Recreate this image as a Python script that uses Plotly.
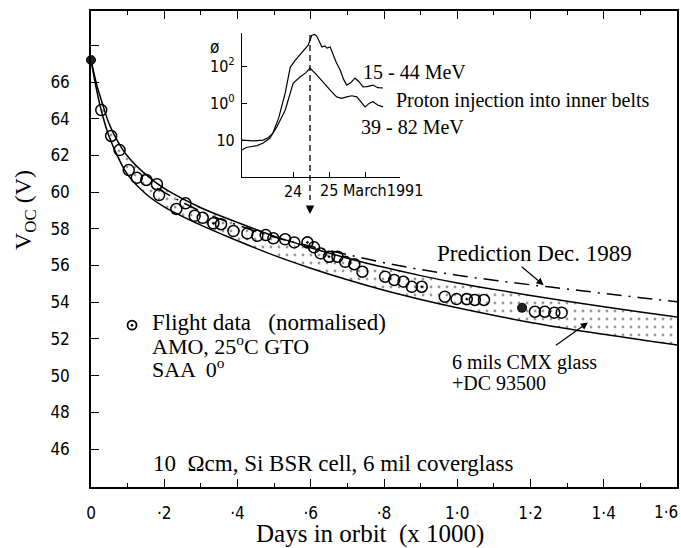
import plotly.graph_objects as go

# ---------------- data ----------------
# flight data (days x1000, Voc V)
open_x = [0.028, 0.055, 0.078, 0.103, 0.125, 0.151, 0.18, 0.186, 0.233, 0.258, 0.283, 0.305,
          0.355, 0.389, 0.427, 0.454, 0.477, 0.498, 0.53, 0.555, 0.609, 0.627, 0.673, 0.694,
          0.719, 0.741, 0.803, 0.828, 0.853, 0.876, 0.966, 0.998, 1.048, 1.073,
          1.212, 1.239, 1.265, 1.285]
open_y = [64.47, 63.06, 62.29, 61.2, 60.78, 60.66, 60.43, 59.84, 59.08, 59.39, 58.71, 58.6,
          58.25, 57.88, 57.75, 57.62, 57.66, 57.48, 57.43, 57.26, 56.99, 56.66, 56.48, 56.2,
          56.07, 55.66, 55.39, 55.21, 55.12, 54.84, 54.3, 54.17, 54.12, 54.12,
          53.48, 53.48, 53.43, 53.43]
dot_x = [0.334, 0.591, 0.65, 0.903, 1.026]
dot_y = [58.3, 57.26, 56.48, 54.84, 54.17]
filled_x = [0.0, 1.177]
filled_y = [67.2, 53.7]

# band boundaries (6 mils CMX glass + DC 93500)
lower_x = [0, 0.015, 0.03, 0.05, 0.075, 0.1, 0.15, 0.2, 0.3, 0.4, 0.5, 0.6, 0.7, 0.8, 0.9, 1.0, 1.2, 1.4, 1.6]
lower_y = [67.2, 65.6, 64.3, 63.0, 61.85, 60.95, 59.9, 59.2, 58.2, 57.35, 56.55, 55.85, 55.22, 54.65,
           54.15, 53.7, 52.9, 52.25, 51.67]
upper_x = [0, 0.015, 0.03, 0.05, 0.075, 0.1, 0.15, 0.2, 0.3, 0.4, 0.5, 0.6, 0.7, 0.8, 0.9, 1.0,
           1.1, 1.2, 1.3, 1.4, 1.5, 1.6]
upper_y = [67.2, 65.9, 64.9, 63.7, 62.7, 61.95, 60.95, 60.2, 59.15, 58.35, 57.6, 56.97, 56.4, 55.9,
           55.45, 55.05, 54.7, 54.37, 54.05, 53.75, 53.47, 53.2]
# prediction Dec. 1989
pred_x = [0.18, 0.3, 0.4, 0.5, 0.6, 0.7, 0.8, 0.9, 1.0, 1.1, 1.2, 1.3, 1.4, 1.5, 1.6]
pred_y = [60.2, 58.95, 58.2, 57.55, 57.05, 56.6, 56.15, 55.78, 55.47, 55.2, 54.95, 54.72, 54.48,
          54.25, 54.03]

# inset: proton flux, March 1991 (day, log-ish units)
p1_x = [22.58, 22.9, 23.17, 23.3, 23.44, 23.6, 23.78, 23.92, 24.05, 24.19, 24.3, 24.42, 24.52,
        24.6, 24.66, 24.75, 24.8, 24.88, 24.94, 25.03, 25.11, 25.2, 25.31, 25.4, 25.49, 25.6,
        25.72, 25.83, 25.94, 26.05, 26.22, 26.35, 26.5]
p1_y = [1.0, 0.98, 1.0, 1.06, 1.19, 1.6, 2.27, 2.97, 3.15, 3.3, 3.42, 3.57, 3.84, 3.86, 3.81,
        3.65, 3.52, 3.55, 3.49, 3.52, 3.3, 3.1, 2.89, 2.65, 2.49, 2.55, 2.68, 2.58, 2.44, 2.45,
        2.49, 2.42, 2.41]
p2_x = [22.58, 22.7, 22.81, 23.0, 23.17, 23.35, 23.55, 23.78, 24.0, 24.19, 24.35, 24.47, 24.66,
        24.8, 24.94, 25.08, 25.21, 25.35, 25.49, 25.63, 25.77, 25.9, 26.0, 26.12, 26.22, 26.35, 26.5]
p2_y = [0.73, 0.8, 0.82, 0.85, 0.92, 1.05, 1.36, 1.81, 2.54, 2.71, 2.82, 2.95, 2.76, 2.6, 2.44,
        2.3, 2.17, 2.13, 2.17, 2.2, 2.17, 2.02, 1.9, 2.0, 2.04, 1.95, 1.9]

x_tickvals = [0, 0.2, 0.4, 0.6, 0.8, 1.0, 1.2, 1.4]
x_ticktext = ["0", "·2", "·4", "·6", "·8", "1·0", "1·2", "1·4"]
x_last_label = "1·6"
y_tickvals = [46, 48, 50, 52, 54, 56, 58, 60, 62, 64, 66, 68]
y_ticktext = ["46", "48", "50", "52", "54", "56", "58", "60", "62", "64", "66", ""]
in_y_tickvals = [1, 2, 3, 3.9]
in_y_ticktext = ["10", "10<sup>0</sup>", "10<sup>2</sup>", ""]
in_x_tickvals = [24, 25, 26]
in_x_ticktext = ["24", "", ""]

# ---------------- layout helpers ----------------
W, H = 681, 548
ML, MR, MT, MB = 91, 4, 11, 61
PW, PH = W - ML - MR, H - MT - MB


def px(xp):
    return (xp - ML) / PW


def py(yp):
    return 1 - (yp - MT) / PH


SERIF = "Liberation Serif, Times New Roman, serif"
TICKF = "DejaVu Sans Condensed, Liberation Sans Narrow, sans-serif"

fig = go.Figure()

# band
fig.add_trace(go.Scatter(x=lower_x, y=lower_y, mode="lines", line=dict(color="black", width=1.5, shape="spline"),
                         showlegend=False, hoverinfo="skip"))
fig.add_trace(go.Scatter(x=upper_x, y=upper_y, mode="lines", line=dict(color="black", width=1.5, shape="spline"),
                         fill="tonexty", fillcolor="rgba(0,0,0,0)",
                         fillpattern=dict(shape=".", fgcolor="#333", bgcolor="rgba(0,0,0,0)", size=8, solidity=0.1),
                         showlegend=False, hoverinfo="skip"))
# prediction
fig.add_trace(go.Scatter(x=pred_x, y=pred_y, mode="lines",
                         line=dict(color="black", width=1.5, dash="15px,7px,2px,7px", shape="spline"),
                         showlegend=False))
# flight data
fig.add_trace(go.Scatter(x=open_x, y=open_y, mode="markers",
                         marker=dict(symbol="circle-open", size=11, color="black", line=dict(width=1.5)),
                         showlegend=False))
fig.add_trace(go.Scatter(x=dot_x, y=dot_y, mode="markers",
                         marker=dict(symbol="circle-open-dot", size=11, color="black", line=dict(width=1.6)),
                         showlegend=False))
fig.add_trace(go.Scatter(x=filled_x, y=filled_y, mode="markers",
                         marker=dict(symbol="circle", size=9, color="#222", line=dict(width=1, color="black")),
                         showlegend=False, cliponaxis=False))

# inset
fig.add_trace(go.Scatter(x=p1_x, y=p1_y, mode="lines", line=dict(color="black", width=1.2),
                         xaxis="x2", yaxis="y2", showlegend=False))
fig.add_trace(go.Scatter(x=p2_x, y=p2_y, mode="lines", line=dict(color="black", width=1.2),
                         xaxis="x2", yaxis="y2", showlegend=False))

axis_common = dict(showline=True, linecolor="black", linewidth=1.5, showgrid=False, zeroline=False,
                   automargin=False,
                   tickcolor="black", tickfont=dict(family=TICKF, size=17, color="black"))

fig.update_layout(
    width=W, height=H,
    margin=dict(l=ML, r=MR, t=MT, b=MB, autoexpand=False),
    paper_bgcolor="white", plot_bgcolor="white",
    xaxis=dict(**axis_common, range=[0, 1.6], domain=[0, 1], mirror="ticks", ticks="inside", ticklen=8,
               tickwidth=1.3, tickvals=x_tickvals, ticktext=x_ticktext, ticklabelstandoff=10,
               minor=dict(ticks="inside", ticklen=4, dtick=0.1, tickcolor="black", tickwidth=1.2)),
    yaxis=dict(**axis_common, range=[43.93, 69.87], mirror=True, ticks="inside", ticklen=8, tickwidth=1.3,
               tickvals=y_tickvals, ticktext=y_ticktext, ticklabelstandoff=16),
    xaxis2=dict(showline=True, linecolor="black", linewidth=1.2, showgrid=False, zeroline=False,
                anchor="y2", domain=[px(242), px(400)], range=[22.58, 26.97],
                ticks="inside", ticklen=5, tickcolor="black", tickvals=in_x_tickvals, ticktext=in_x_ticktext,
                tickfont=dict(family=TICKF, size=16, color="black")),
    yaxis2=dict(showline=True, linecolor="black", linewidth=1.2, showgrid=False, zeroline=False,
                anchor="x2", domain=[py(177), py(33)], range=[0, 3.9],
                ticks="inside", ticklen=5, tickcolor="black", tickvals=in_y_tickvals, ticktext=in_y_ticktext,
                tickfont=dict(family=TICKF, size=16, color="black"), ticklabelstandoff=3),
)

# dashed marker line from peak downward + arrow
fig.add_shape(type="line", xref="x2", yref="paper", x0=24.47, x1=24.47, y0=py(35), y1=py(200),
              line=dict(color="black", width=1.3, dash="6px,4px"))
fig.add_annotation(xref="x2", yref="paper", x=24.47, y=py(214), ax=0, ay=-16, showarrow=True,
                   arrowhead=2, arrowsize=1.3, arrowwidth=1.3, arrowcolor="black", text=" ")


def txt(text, xp, yp, size, xanchor="left", family=SERIF, angle=0):
    fig.add_annotation(xref="paper", yref="paper", x=px(xp), y=py(yp), text=text, showarrow=False,
                       xanchor=xanchor, yanchor="middle", textangle=angle,
                       font=dict(family=family, size=size, color="black"))


txt(x_last_label, 680, 512, 17, xanchor="right", family=TICKF)
txt("15 - 44 MeV", 361, 72, 20)
txt("Proton injection into inner belts", 394, 100, 20)
txt("39 - 82 MeV", 359, 127, 20)
txt("ø", 208, 47, 17, family=TICKF)
txt("25 March1991", 318, 190, 16, family=TICKF)
txt("Prediction Dec. 1989", 435, 253, 23)
txt("Flight data   (normalised)", 150, 322, 23)
txt("AMO, 25<sup>o</sup>C GTO", 150, 345, 22)
txt("SAA  0<sup>o</sup>", 150, 368, 22)
txt("6 mils CMX glass", 450, 362, 20)
txt("+DC 93500", 450, 383, 20)
txt("10  \u03a9cm, Si BSR cell, 6 mil coverglass", 151, 463, 23)
txt("Days in orbit  (x 1000)", 370, 534, 25, xanchor="center")
txt("V<sub>OC</sub> (V)", 25, 210, 24, xanchor="center", angle=-90)

# legend symbol
fig.add_trace(go.Scatter(x=[0.112], y=[52.75], mode="markers",
                         marker=dict(symbol="circle-open-dot", size=9, color="black", line=dict(width=1.8)),
                         showlegend=False, hoverinfo="skip"))

# arrows
fig.add_annotation(x=1.236, y=54.93, ax=-25, ay=-21, showarrow=True, arrowhead=2, arrowsize=1.2,
                   arrowwidth=1.2, arrowcolor="black", text=" ")
fig.add_annotation(x=1.357, y=52.9, ax=-35, ay=25, showarrow=True, arrowhead=2, arrowsize=1.2,
                   arrowwidth=1.2, arrowcolor="black", text=" ")

fig.write_html("out.html")
